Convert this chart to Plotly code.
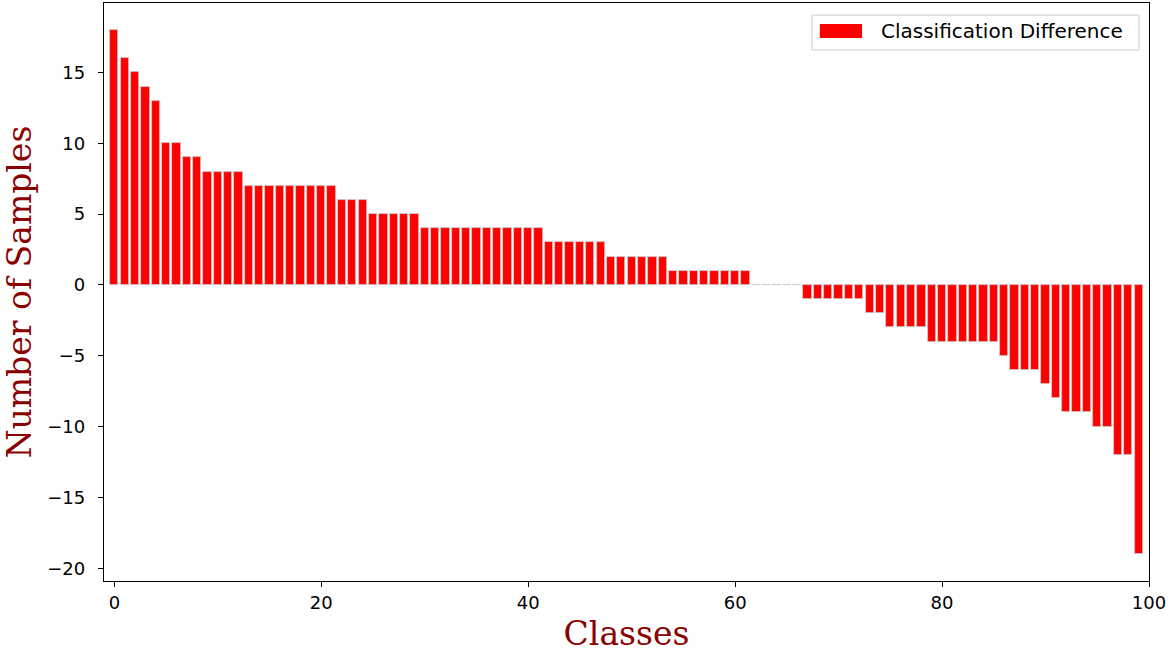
import plotly.graph_objects as go

classes = list(range(100))
differences = (
    [18, 16, 15, 14, 13, 10, 10, 9, 9, 8, 8, 8, 8]
    + [7] * 9 + [6] * 3 + [5] * 5 + [4] * 12 + [3] * 6 + [2] * 6 + [1] * 8
    + [0] * 5
    + [-1] * 6 + [-2] * 2 + [-3] * 4 + [-4] * 7 + [-5] + [-6] * 3 + [-7] + [-8]
    + [-9] * 3 + [-10] * 2 + [-12] * 2 + [-19]
)
x_ticks = [0, 20, 40, 60, 80, 100]
y_ticks = [-20, -15, -10, -5, 0, 5, 10, 15]
legend_label = "Classification Difference"
bar_color = "#ff0000"

fig = go.Figure()
fig.add_trace(go.Bar(
    x=classes, y=differences, width=0.8,
    name=legend_label,
    marker=dict(color=bar_color, line=dict(color="#c8c8c8", width=0.8)),
    showlegend=False,
))

axis_common = dict(
    showline=True, linecolor="black", linewidth=1.3, mirror=True,
    ticks="outside", ticklen=5, tickwidth=1.2, tickcolor="black",
    showgrid=False, zeroline=False, automargin=False,
    tickfont=dict(family="DejaVu Sans", size=18, color="black"),
)

title_font = dict(family="DejaVu Serif", size=33, color="#8b0000")

fig.update_layout(
    width=1172, height=656,
    margin=dict(l=104, r=23, t=3, b=75),
    plot_bgcolor="white", paper_bgcolor="white",
    bargap=0,
    xaxis=dict(range=[-1, 100], tickvals=x_ticks,
               title=dict(text="Classes", font=title_font, standoff=10),
               **axis_common),
    yaxis=dict(range=[-20.9, 19.9], tickvals=y_ticks, ticklabelstandoff=9,
               title=dict(text="Number of Samples", font=title_font, standoff=7),
               **axis_common),
)

# legend box drawn like matplotlib's (wide patch + label)
fig.add_shape(type="rect", xref="paper", yref="paper",
              x0=0.6775, x1=0.9904, y0=0.9187, y1=0.979,
              line=dict(color="#cccccc", width=1), fillcolor="rgba(255,255,255,0.8)")
fig.add_shape(type="rect", xref="paper", yref="paper",
              x0=0.685, x1=0.7254, y0=0.9394, y1=0.9637,
              line=dict(width=0), fillcolor=bar_color)
fig.add_annotation(xref="paper", yref="paper", x=0.7416, y=0.9516,
                   xanchor="left", yanchor="middle", showarrow=False,
                   text=legend_label,
                   font=dict(family="DejaVu Sans", size=20, color="black"))

fig.write_html("out.html")
